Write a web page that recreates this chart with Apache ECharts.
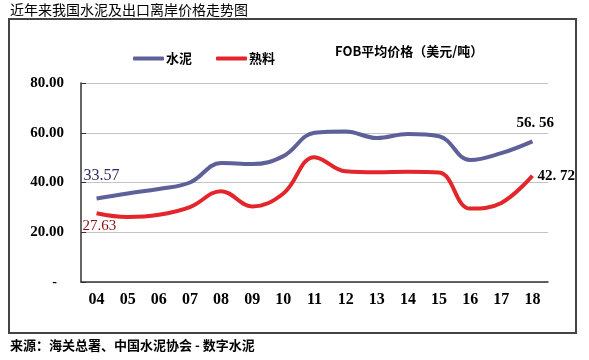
<!DOCTYPE html>
<html><head><meta charset="utf-8">
<script src="https://cdn.jsdelivr.net/npm/echarts@6/dist/echarts.min.js"></script>
<style>html,body{margin:0;padding:0;background:#fff}#c{width:589px;height:360px}</style>
</head><body><div id="c"></div>
<script>
var categories = ['04','05','06','07','08','09','10','11','12','13','14','15','16','17','18'];
var cement = [33.57, 35.6, 37.4, 40.0, 47.8, 47.4, 50.6, 60.0, 60.5, 57.9, 59.5, 58.6, 49.0, 51.8, 56.56];
var clinker = [27.63, 26.1, 27.0, 30.1, 36.5, 30.4, 35.6, 50.2, 44.5, 44.1, 44.3, 44.0, 29.5, 31.8, 42.72];
var yTicks = [0, 20, 40, 60, 80];
var seriesNames = ['水泥', '熟料'];

var serifBold = {fontFamily: '"Liberation Serif","DejaVu Serif",serif', fontWeight: 'bold', color: '#000'};
var cjk = '"Noto Sans CJK SC","Noto Sans",sans-serif';
var serif = '"Liberation Serif",serif';

function lab(arr, idx) {
  return arr.map(function (v, i) {
    var o = idx[i];
    return o ? {value: v, label: Object.assign({show: true}, o)} : v;
  });
}
function plain(p) { return p.value.toFixed(2); }
function spaced(p) { return p.value.toFixed(2).replace('.', '. '); }
var cementData = lab(cement, {
  0: {position: [-13, -31], formatter: plain, color: '#2b2e63', fontFamily: serif, fontSize: 16},
  14: {position: [-16, -26], formatter: spaced, color: '#000', fontFamily: serif, fontWeight: 'bold', fontSize: 15}});
var clinkerData = lab(clinker, {
  0: {position: [-14, 5], formatter: plain, color: '#8b1010', fontFamily: serif, fontSize: 15},
  14: {position: [5, -7], formatter: spaced, color: '#000', fontFamily: serif, fontWeight: 'bold', fontSize: 15}});

var chart = echarts.init(document.getElementById('c'), null, {renderer: 'canvas'});
chart.setOption({
  animation: false,
  backgroundColor: '#fff',
  graphic: [
    {type: 'rect', shape: {x: 9, y: 19, width: 567, height: 314}, style: {fill: 'none', stroke: '#444', lineWidth: 2}, z: 0},
    {type: 'text', left: 10, top: 3, style: {text: '近年来我国水泥及出口离岸价格走势图', font: '14px ' + cjk, fill: '#000'}},
    {type: 'text', left: 10, top: 339, style: {text: '来源：海关总署、中国水泥协会 - 数字水泥', font: 'bold 13px ' + cjk, fill: '#000'}},
    {type: 'text', left: 335, top: 45, style: {text: 'FOB平均价格（美元/吨）', font: 'bold 13px ' + cjk, fill: '#000'}}
  ],
  legend: {
    left: 128, top: 47, itemWidth: 31, itemHeight: 4, itemGap: 24,
    icon: 'roundRect',
    data: seriesNames,
    textStyle: {fontFamily: cjk, fontWeight: 'bold', fontSize: 13, color: '#000', padding: [0, 0, 0, -3]}
  },
  grid: {left: 81, right: 41, top: 83, bottom: 78, containLabel: false},
  xAxis: {
    type: 'category', data: categories, boundaryGap: true,
    axisLine: {lineStyle: {color: '#333', width: 1.5}},
    axisTick: {inside: true, length: 5, lineStyle: {color: '#333'}},
    axisLabel: Object.assign({fontSize: 16, margin: 10}, serifBold)
  },
  yAxis: {
    type: 'value', min: 0, max: 80, interval: 20,
    axisLine: {show: true, lineStyle: {color: '#333', width: 1.5}},
    axisTick: {show: true, inside: true, length: 5, lineStyle: {color: '#333'}},
    splitLine: {lineStyle: {color: '#c4c4c4', width: 1}},
    axisLabel: Object.assign({fontSize: 15, margin: 17,
      formatter: function (v) { return yTicks.indexOf(v) >= 0 && v === 0 ? '{z|-}' : v.toFixed(2); },
      rich: {z: {fontSize: 14, padding: [0, 7, 0, 0], fontFamily: serif, color: '#000'}}
    }, serifBold)
  },
  series: [
    {name: seriesNames[0], type: 'line', data: cementData, smooth: 0.4, symbol: 'circle', symbolSize: 0.1, showSymbol: true,
     lineStyle: {width: 4, color: '#5e6099'}, itemStyle: {color: '#5e6099'}, z: 3},
    {name: seriesNames[1], type: 'line', data: clinkerData, smooth: 0.4, symbol: 'circle', symbolSize: 0.1, showSymbol: true,
     lineStyle: {width: 4, color: '#e3262b'}, itemStyle: {color: '#e3262b'}, z: 4}
  ]
});
</script></body></html>
